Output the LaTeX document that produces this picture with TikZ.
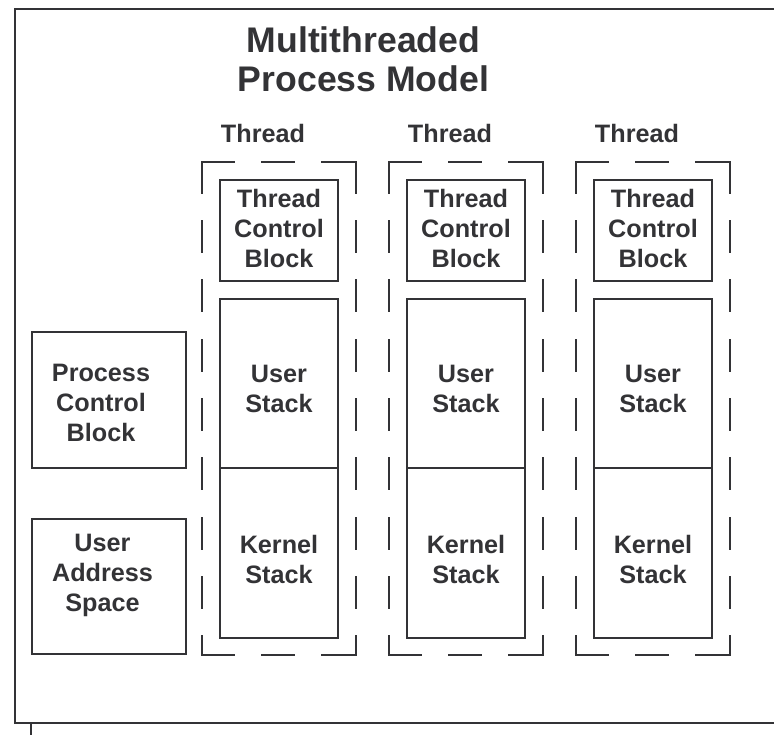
\documentclass[tikz,border=0pt]{standalone}
\usepackage{fontspec}
\setmainfont{Liberation Sans}
\definecolor{ink}{HTML}{333336}
\begin{document}
\begin{tikzpicture}[x=1pt,y=-1pt,
  frame/.style={draw=ink, line width=2pt},
  box/.style={draw=ink, line width=2pt, inner sep=0pt, outer sep=0pt},
  lbl/.style={text=ink, font=\fontsize{25.2}{30}\selectfont\bfseries, align=center, inner sep=0pt},
  title/.style={text=ink, font=\fontsize{35.6}{39}\selectfont\bfseries, align=center, inner sep=0pt},
  region/.style={inner sep=0pt, outer sep=0pt, minimum width=154pt, minimum height=493pt},
  hdash/.style={draw=ink, line width=2.4pt, line cap=rect, dash pattern=on 31.6pt off 28.4pt},
  vdash/.style={draw=ink, line width=2.4pt, line cap=rect, dash pattern=on 30.6pt off 28.7pt}]
\useasboundingbox (0,0) rectangle (774,735);

% outer frame, open on the right
\coordinate (fTR) at (776,9);
\coordinate (fTL) at (15,9);
\coordinate (fBL) at (15,723);
\coordinate (fBR) at (776,723);
\coordinate (tickTop) at (31,723);
\coordinate (tickEnd) at (31,737);
\draw[frame] (fTR) -- (fTL) -- (fBL) -- (fBR);
\draw[frame] (tickTop) -- (tickEnd);

% title
\node[title] (ttl) at (363.5,59) {Multithreaded\\Process Model};

% process-wide blocks
\node[box, minimum width=154pt, minimum height=136pt] (pcb) at (109,400) {};
\node[lbl] (pcbT) at (101,403) {Process\\Control\\Block};
\node[box, minimum width=154pt, minimum height=135pt] (uas) at (109,586.5) {};
\node[lbl] (uasT) at (102.5,575.5) {User\\Address\\Space};

% one column per thread
\foreach \i/\cx in {1/279, 2/466, 3/653} {
  \node[region] (thr\i) at (\cx,408.5) {};
  \draw[hdash] (thr\i.north west) -- (thr\i.north east);
  \draw[vdash] (thr\i.north west) -- (thr\i.south west);
  \draw[vdash] (thr\i.north east) -- (thr\i.south east);
  \draw[hdash] (thr\i.south west) -- (thr\i.south east);
  \node[lbl, anchor=base] (thrT\i) at (\cx-16,143) {Thread};
  \node[box, minimum width=118pt, minimum height=101pt] (tcb\i) at (\cx,230.5) {};
  \node[lbl] (tcbT\i) at (\cx,228.5) {Thread\\Control\\Block};
  \node[box, minimum width=118pt, minimum height=169pt] (us\i) at (\cx,383.5) {};
  \node[lbl] (usT\i) at (\cx,388.5) {User\\Stack};
  \node[box, minimum width=118pt, minimum height=170pt] (ks\i) at (\cx,553) {};
  \node[lbl] (ksT\i) at (\cx,559) {Kernel\\Stack};
}
\end{tikzpicture}
\end{document}
